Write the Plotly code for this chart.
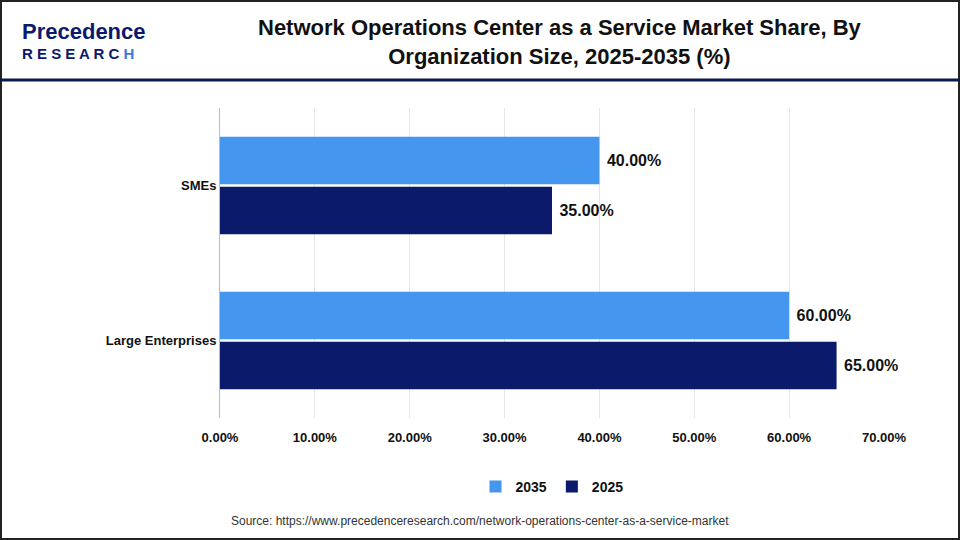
import plotly.graph_objects as go

categories = ["Large Enterprises", "SMEs"]
v2025 = [65, 35]
v2035 = [60, 40]
ticks = [0, 10, 20, 30, 40, 50, 60, 70]
tick_labels = [f"{t:.2f}%" for t in ticks]

F = "Liberation Sans, Arial, sans-serif"
L, R, T, B = 220, 76, 108, 122
PW, PH = 960 - L - R, 540 - T - B
def px(x): return (x - L) / PW
def py(y): return (540 - B - y) / PH

fig = go.Figure()
fig.add_bar(y=categories, x=v2025, orientation="h", name="<b>2025</b>", marker_color="#0B1A6A",
            marker_line_width=0,
            text=[f" <b>{v:.2f}%</b>" for v in v2025], textposition="outside",
            textfont=dict(size=16, color="#111", family=F), cliponaxis=False)
fig.add_bar(y=categories, x=v2035, orientation="h", name="<b>2035</b>", marker_color="#4596EE",
            marker_line_width=0,
            text=[f" <b>{v:.2f}%</b>" for v in v2035], textposition="outside",
            textfont=dict(size=16, color="#111", family=F), cliponaxis=False)

fig.update_layout(
    width=960, height=540, paper_bgcolor="white", plot_bgcolor="white",
    margin=dict(l=L, r=R, t=T, b=B, autoexpand=False),
    barmode="group", bargap=0.355, bargroupgap=0.05,
    font=dict(family=F, color="#111"),
    showlegend=True,
    legend=dict(orientation="h", x=0.5, xanchor="center", y=py(487), yanchor="middle",
                traceorder="reversed", font=dict(size=14, family=F), itemwidth=30,
                tracegroupgap=0),
    xaxis=dict(range=[0, 70], tickvals=ticks, ticktext=[f"<b>{t}</b>" for t in tick_labels],
               showgrid=True, gridcolor="#e6e6e6", zeroline=False, tickfont=dict(size=13),
               showline=False, automargin=False, ticklabelstandoff=10),
    yaxis=dict(tickfont=dict(size=13), ticksuffix="  ", showline=True, linecolor="#bbb",
               ticks="outside", ticklen=0, automargin=False),
    shapes=[
        dict(type="rect", xref="paper", yref="paper", x0=px(1), x1=px(959),
             y0=py(539), y1=py(1), line=dict(color="#222", width=2)),
        dict(type="line", xref="paper", yref="paper", x0=px(0), x1=px(960),
             y0=py(80), y1=py(80), line=dict(color="#0B1A4A", width=3)),
    ],
    annotations=[
        dict(text="<b>Network Operations Center as a Service Market Share, By<br>Organization Size, 2025-2035 (%)</b>",
             xref="paper", yref="paper", x=px(560), y=py(42), showarrow=False,
             font=dict(size=22, family=F, color="#111"), xanchor="center", yanchor="middle"),
        dict(text="<b><span style='color:#0B1A6A;font-size:22px'>Precedence</span></b><br><b><span style='color:#0B1A6A'>R E S E A R C</span><span style='color:#3A7BE0'> H</span></b>",
             xref="paper", yref="paper", x=px(20), y=py(40), showarrow=False,
             xanchor="left", yanchor="middle", align="left", font=dict(size=15, family=F)),
        dict(text="Source: https://www.precedenceresearch.com/network-operations-center-as-a-service-market",
             xref="paper", yref="paper", x=px(480), y=py(521), showarrow=False,
             font=dict(size=12, family=F, color="#333"), xanchor="center", yanchor="middle"),
    ],
)
fig.update_yaxes(tickvals=categories, ticktext=[f"<b>{c}</b>" for c in categories])
fig.write_html("out.html", config={"displayModeBar": False})
with open("out.html", encoding="utf-8") as f:
    html = f.read()
html = html.replace("<body>", "<body style=\"margin:0;overflow:hidden\">", 1)
with open("out.html", "w", encoding="utf-8") as f:
    f.write(html)
